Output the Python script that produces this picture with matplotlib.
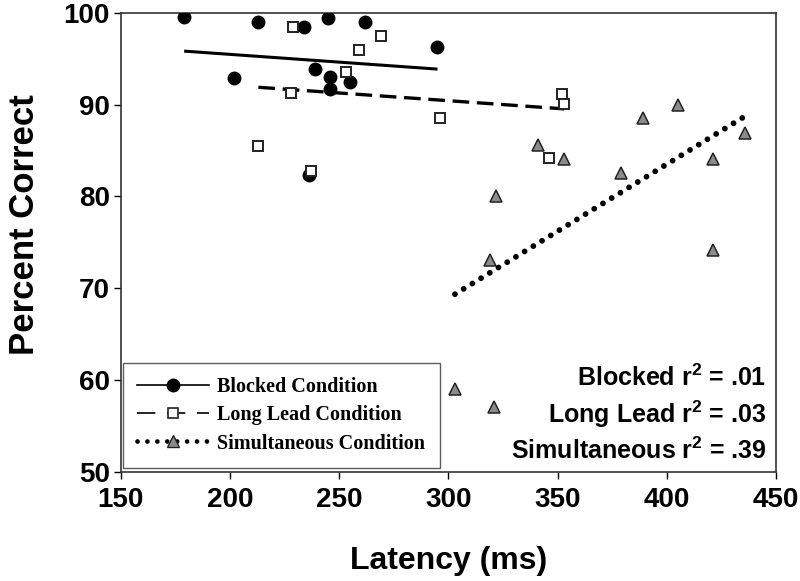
import numpy as np
import matplotlib
matplotlib.use("Agg")
import matplotlib.pyplot as plt

plt.rcParams['font.family'] = ['Liberation Sans', 'DejaVu Sans']
plt.rcParams['mathtext.default'] = 'regular'

# data (latency in ms, percent correct)
blocked_x = [179, 213, 234, 245, 262, 295, 202, 239, 246, 255, 246, 236]
blocked_y = [99.5, 99.0, 98.5, 99.4, 99.0, 96.3, 92.9, 93.9, 93.0, 92.5, 91.7, 82.3]

longlead_x = [229, 269, 259, 253, 228, 296, 213, 237, 352, 353, 346]
longlead_y = [98.5, 97.5, 96.0, 93.5, 91.3, 88.5, 85.5, 82.8, 91.2, 90.1, 84.2]

simult_x = [303, 321, 319, 322, 341, 353, 379, 389, 405, 421, 421, 436]
simult_y = [59.0, 57.1, 73.1, 80.0, 85.6, 84.1, 82.5, 88.5, 90.0, 84.1, 74.2, 86.9]

r2_labels = ["Blocked r$^{2}$ = .01", "Long Lead r$^{2}$ = .03", "Simultaneous r$^{2}$ = .39"]
x_ticks = [150, 200, 250, 300, 350, 400, 450]
y_ticks = [50, 60, 70, 80, 90, 100]

fig = plt.figure(figsize=(8, 5.81), dpi=100)
ax = fig.add_axes([0.151, 0.188, 0.819, 0.790])


def trend(x, y):
    x = np.array(x, dtype=float)
    y = np.array(y, dtype=float)
    k, b = np.polyfit(x, y, 1)
    xs = np.array([x.min(), x.max()])
    return xs, k * xs + b


# scatter + trend lines
bx, by = trend(blocked_x, blocked_y)
ax.plot(bx, by, color='black', lw=2.2, solid_capstyle='butt', zorder=2)
ax.plot(blocked_x, blocked_y, 'o', ms=9, mfc='black', mec='black', zorder=3)

lx, ly = trend(longlead_x, longlead_y)
ax.plot(lx, ly, color='black', lw=2.4, linestyle=(0, (5, 2.3)), zorder=2)
ax.plot(longlead_x, longlead_y, 's', ms=7.5, mfc='white', mec='#222222', mew=1.4, zorder=3)

sx, sy = trend(simult_x, simult_y)
ax.plot(sx, sy, color='black', lw=4.2, linestyle=(0, (0.001, 1.75)),
        dash_capstyle='round', zorder=2)
ax.plot(simult_x, simult_y, '^', ms=8.5, mfc='#8c8c8c', mec='#222222', mew=1.1, zorder=3)

# legend handles (line + marker)
h1, = ax.plot([], [], color='black', lw=1.2, marker='o', ms=9, mfc='black', mec='black')
h2, = ax.plot([], [], color='black', lw=1.2, linestyle=(0, (11, 7)), marker='s', ms=7.5,
              mfc='white', mec='#222222', mew=1.2)
h3, = ax.plot([], [], color='black', lw=3.4, linestyle=(0, (0.001, 2.1)), dash_capstyle='round',
              marker='^', ms=8.5, mfc='#8c8c8c', mec='#222222', mew=1.0)
leg = ax.legend([h1, h2, h3], ["Blocked Condition", "Long Lead Condition", "Simultaneous Condition"],
                loc='lower left', bbox_to_anchor=(0.003, 0.009), borderaxespad=0,
                handlelength=3.6, handletextpad=0.4, labelspacing=0.4,
                borderpad=0.7, frameon=True, fancybox=False,
                prop={'family': 'Liberation Serif', 'weight': 'bold', 'size': 14.5})
leg.get_frame().set_edgecolor('#333333')
leg.get_frame().set_linewidth(1.0)

# r^2 annotations
for i, lab in enumerate(r2_labels):
    ax.text(0.985, 0.205 - i * 0.08, lab, transform=ax.transAxes, ha='right', va='center',
            fontsize=18, fontweight='bold')

ax.set_xlim(150, 450)
ax.set_ylim(50, 100)
ax.set_xticks(x_ticks)
ax.set_yticks(y_ticks)
ax.tick_params(direction='out', length=5, width=1, labelsize=20)
ax.tick_params(axis='x', pad=6)
ax.tick_params(axis='y', pad=3)
for t in ax.get_xticklabels() + ax.get_yticklabels():
    t.set_fontweight('bold')
for s in ax.spines.values():
    s.set_linewidth(1.2)
    s.set_color('#333333')

ax.set_xlabel("Latency (ms)", fontsize=23, fontweight='bold', labelpad=24)
ax.set_ylabel("Percent Correct", fontsize=25, fontweight='bold')
ax.yaxis.set_label_coords(-0.122, 0.538)

fig.savefig("out.png", dpi=100)
